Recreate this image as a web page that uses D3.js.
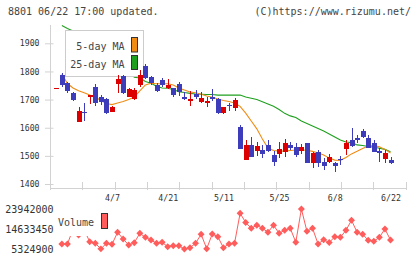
<!DOCTYPE html>
<html>
<head>
<meta charset="utf-8">
<style>
body { margin: 0; background: #fff; }
text { font-family: "DejaVu Sans Mono", monospace; fill: #333; }
</style>
</head>
<body>
<svg width="420" height="259"></svg>
<script src="https://d3js.org/d3.v7.min.js"></script>
<script>

var dates = ["3/24","3/25","3/26","3/27","3/30","3/31","4/1","4/2","4/3","4/6",
  "4/7","4/8","4/9","4/10","4/13","4/14","4/15","4/16","4/17","4/20",
  "4/21","4/22","4/23","4/24","4/27","4/28","4/30","5/1","5/7","5/8",
  "5/11","5/12","5/13","5/14","5/15","5/18","5/19","5/20","5/21","5/22",
  "5/25","5/26","5/27","5/28","5/29","6/1","6/2","6/3","6/4","6/5",
  "6/8","6/9","6/10","6/11","6/12","6/15","6/16","6/17","6/18","6/19","6/22"];

var open  = [1738,1787,1758,1722,1621,1656,1710,1746,1708,1701,1657,1755,1784,1710,1701,1752,1820,1781,1752,1770,
  1740,1740,1754,1710,1696,1719,1693,1689,1710,1702,1654,1679,1670,1604,1486,1539,1517,1521,1539,1503,
  1506,1512,1539,1533,1516,1546,1476,1515,1478,1479,1474,1489,1525,1556,1565,1587,1562,1546,1518,1489,1485];
var high  = [1742,1793,1763,1726,1673,1688,1717,1754,1716,1707,1677,1787,1788,1740,1740,1805,1827,1785,1758,1776,
  1773,1742,1764,1728,1731,1734,1726,1708,1738,1704,1674,1688,1705,1610,1556,1568,1550,1539,1556,1517,
  1548,1560,1549,1545,1542,1547,1512,1521,1491,1506,1479,1498,1555,1598,1574,1595,1574,1555,1527,1522,1495];
var low   = [1737,1746,1725,1695,1620,1625,1684,1677,1682,1649,1655,1724,1720,1709,1699,1746,1773,1752,1728,1746,
  1737,1710,1713,1699,1678,1701,1687,1675,1696,1649,1648,1660,1660,1524,1485,1497,1501,1494,1514,1464,
  1494,1497,1521,1496,1505,1475,1457,1461,1448,1474,1444,1469,1504,1531,1546,1562,1527,1515,1479,1474,1471];
var close = [1741,1752,1732,1699,1660,1653,1716,1687,1690,1651,1675,1773,1722,1737,1734,1787,1776,1760,1732,1751,
  1752,1718,1728,1702,1702,1710,1707,1696,1702,1652,1672,1677,1700,1524,1539,1497,1535,1506,1518,1479,
  1524,1545,1529,1503,1531,1476,1511,1476,1465,1495,1463,1487,1547,1535,1556,1568,1527,1515,1509,1511,1476];

var ma5  = [null,1791,1757,1741,1731,1724,1716,1709,1697,1686,1682,1688,1693,1700,1709,1731,1752,1758,1756,1756,
  1756,1752,1741,1734,1727,1724,1719,1713,1708,1702,1697,1693,1688,1676,1652,1624,1596,1560,1528,1519,
  1517,1517,1519,1521,1521,1520,1516,1510,1503,1492,1485,1484,1494,1507,1516,1526,1535,1537,1532,1523,1510];
var ma25 = [null,1963,1953,1944,1932,1919,1907,1894,1880,1866,1852,1836,1820,1802,1779,1777,1764,1758,1747,1741,
  1740,1736,1728,1725,1722,1720,1719,1718,1718,1716,1716,1716,1716,1716,1709,1705,1700,1692,1684,1676,
  1665,1651,1642,1636,1624,1615,1606,1597,1588,1578,1567,1556,1549,1547,1539,1537,1533,1531,1527,1523,1515];

var volume = [null,7650000,7650000,14600000,11840000,14200000,8720000,7980000,5400000,7980000,
  7510000,13100000,9980000,7190000,8260000,12630000,10770000,9510000,7980000,8440000,
  6400000,6860000,6860000,5324900,5930000,7980000,12170000,5450000,12300000,11050000,
  5930000,7650000,7980000,21940000,17660000,14960000,16400000,14960000,13140000,16400000,
  12630000,14030000,14960000,8490000,23942000,13560000,14960000,7650000,9650000,8350000,
  11050000,10770000,14030000,18680000,13140000,12210000,9370000,8950000,10770000,14630000,9510000];

var priceTicks = [1400,1500,1600,1700,1800,1900];
var volTicks = [5324900,14633450,23942000];
var dateLabels = ["4/7","4/21","5/11","5/25","6/8","6/22"];

var svg = d3.select("svg");
var grey = "#d2d2d2", up = "#dd0000", down = "#3d3dbb",
    orange = "#f08c14", green = "#1ea01e", volColor = "#ff5c5c";

var x = d3.scalePoint().domain(dates).range([56.3, 390.5]);
var y = d3.scaleLinear().domain([1400, 1900]).range([184, 43.3]);
var yv = d3.scaleLinear().domain([5324900, 23942000]).range([249, 209]);
var tickX = d3.scaleLinear().domain([0, 11]).range([50, 405.7]);

// header
svg.append("text").attr("x", 8).attr("y", 14.5).attr("font-size", 10).style("fill", "#444")
    .text("8801 06/22 17:00 updated.");
svg.append("text").attr("x", 411).attr("y", 14.5).attr("font-size", 10).attr("text-anchor", "end")
    .style("fill", "#444").text("(C)https://www.rizumu.net/");

// axes
svg.append("line").attr("x1", 50.5).attr("x2", 50.5).attr("y1", 25).attr("y2", 190)
    .attr("stroke", grey);
svg.append("line").attr("x1", 50).attr("x2", 406).attr("y1", 188.5).attr("y2", 188.5)
    .attr("stroke", grey);
svg.append("g").selectAll("line").data(d3.range(12)).enter().append("line")
    .attr("x1", function(k) { return Math.round(tickX(k)) + 0.5; })
    .attr("x2", function(k) { return Math.round(tickX(k)) + 0.5; })
    .attr("y1", 182).attr("y2", 190).attr("stroke", grey);

var yAxis = svg.append("g").attr("transform", "translate(50.5,0)")
    .call(d3.axisLeft(y).tickValues(priceTicks).tickSize(5.5).tickPadding(5.5).tickFormat(d3.format("d")));
yAxis.select(".domain").remove();
yAxis.selectAll(".tick line").attr("x1", 3).attr("stroke", grey);
yAxis.selectAll("text").attr("font-size", 8.2).attr("font-family", null).style("fill", "#333");

var xAxis = svg.append("g").attr("transform", "translate(0,188.5)")
    .call(d3.axisBottom(x).tickValues(dateLabels).tickSize(0).tickPadding(6.5));
xAxis.select(".domain").remove();
xAxis.selectAll("text").attr("font-size", 8.3).attr("font-family", null).style("fill", "#333");

// moving averages
function maLine(arr) {
  return d3.line()
    .defined(function(d) { return d != null; })
    .x(function(d, i) { return x(dates[i]); })
    .y(function(d) { return y(d); })(arr);
}
svg.append("path").attr("d", maLine(ma25)).attr("fill", "none").attr("stroke", green).attr("stroke-width", 1.1);
svg.append("path").attr("d", maLine(ma5)).attr("fill", "none").attr("stroke", orange).attr("stroke-width", 1.1);

// price legend
var leg = svg.append("g");
leg.append("rect").attr("x", 65.5).attr("y", 30.5).attr("width", 78).attr("height", 46)
    .attr("fill", "#fff").attr("stroke", "#ccc");
leg.append("text").attr("x", 124.5).attr("y", 50).attr("font-size", 10).attr("text-anchor", "end")
    .style("fill", "#444").text("5-day MA");
leg.append("text").attr("x", 124.5).attr("y", 68).attr("font-size", 10).attr("text-anchor", "end")
    .style("fill", "#444").text("25-day MA");
leg.append("rect").attr("x", 131.5).attr("y", 37.5).attr("width", 6).attr("height", 14.5)
    .attr("fill", orange).attr("stroke", "#333");
leg.append("rect").attr("x", 131.5).attr("y", 55.5).attr("width", 6).attr("height", 14)
    .attr("fill", green).attr("stroke", "#333");

// candles
var candles = svg.append("g").selectAll("g").data(dates).enter().append("g");
candles.append("line")
    .attr("x1", function(d) { return Math.round(x(d)) + 0.5; })
    .attr("x2", function(d) { return Math.round(x(d)) + 0.5; })
    .attr("y1", function(d, i) { return y(high[i]); })
    .attr("y2", function(d, i) { return y(low[i]); })
    .attr("stroke", function(d, i) { return close[i] >= open[i] ? up : down; })
    .attr("shape-rendering", "crispEdges");
candles.append("rect")
    .attr("x", function(d) { return Math.round(x(d)) - 2; })
    .attr("width", 5)
    .attr("y", function(d, i) { return y(Math.max(open[i], close[i])); })
    .attr("height", function(d, i) { return Math.max(1, Math.abs(y(open[i]) - y(close[i]))); })
    .attr("fill", function(d, i) { return close[i] >= open[i] ? up : down; })
    .attr("shape-rendering", "crispEdges");

// volume
svg.append("path")
    .attr("d", d3.line()
      .defined(function(d) { return d != null; })
      .x(function(d, i) { return x(dates[i]); })
      .y(function(d) { return yv(d); })(volume))
    .attr("fill", "none").attr("stroke", volColor).attr("stroke-width", 1);
var volIdx = d3.range(volume.length).filter(function(i) { return volume[i] != null; });
svg.append("g").selectAll("path").data(volIdx).enter().append("path")
    .attr("d", d3.symbol(d3.symbolSquare, 24))
    .attr("transform", function(i) {
      return "translate(" + x(dates[i]) + "," + yv(volume[i]) + ") rotate(45)";
    })
    .attr("fill", volColor);

// volume legend
svg.append("rect").attr("x", 55).attr("y", 209).attr("width", 56).attr("height", 27).attr("fill", "#fff");
svg.append("text").attr("x", 58).attr("y", 225.5).attr("font-size", 10).style("fill", "#444").text("Volume");
svg.append("rect").attr("x", 101.5).attr("y", 213.5).attr("width", 6).attr("height", 15)
    .attr("fill", volColor).attr("stroke", "#333");

var vAxis = svg.append("g").attr("transform", "translate(53.5,0)")
    .call(d3.axisLeft(yv).tickValues(volTicks).tickSize(0).tickPadding(0).tickFormat(d3.format("d")));
vAxis.select(".domain").remove();
vAxis.selectAll("text").attr("font-size", 10).attr("font-family", null).style("fill", "#333");

</script>
</body>
</html>
